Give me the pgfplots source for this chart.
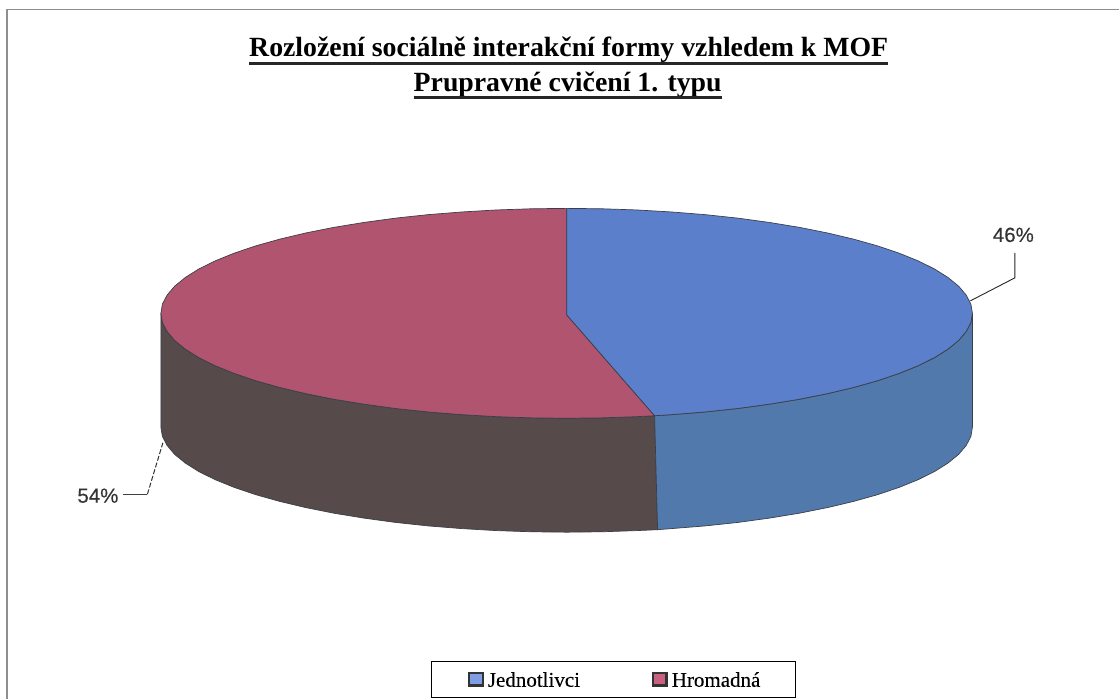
\documentclass[border=0pt]{standalone}
\usepackage{fontspec}
\setmainfont{Liberation Serif}
\newfontfamily\labelfont[FakeBold=0.25]{Liberation Sans}
\newfontfamily\legendfont[FakeBold=0.15]{Liberation Serif}
\usepackage{pgfplots}
\pgfplotsset{compat=1.18}
\definecolor{blueTop}{HTML}{5B7FCB}
\definecolor{blueSide}{HTML}{5179AB}
\definecolor{redTop}{HTML}{B0546F}
\definecolor{redSide}{HTML}{564A4A}
\definecolor{blueKey}{HTML}{7F9DE2}
\definecolor{redKey}{HTML}{C9607F}
\definecolor{rim}{HTML}{3A3F48}
\definecolor{frameGrey}{HTML}{8E8E8E}
\begin{document}
\begin{tikzpicture}
\begin{axis}[
  scale only axis, width=1120pt, height=699pt,
  xmin=0, xmax=1120, ymin=0, ymax=699, y dir=reverse,
  hide axis, clip=false,
]
% white page area, keeps the full extent of the picture
\addplot[fill=white, draw=none, forget plot] coordinates {(0,0) (1120,0) (1120,699) (0,699)} --cycle;
% chart frame
\addplot[frameGrey, line width=1.4pt, forget plot] coordinates {(7,699) (7,9.5) (1120,9.5)};

% side of the Hromadna slice (front rim and its lower copy)
\addplot[fill=redSide, draw=rim, line width=0.7pt] coordinates {
(161,313.5) (162.5,322.7) (167.2,331.7) (174.8,340.7) (185.5,349.4) (199,357.9) (215.4,366) (234.4,373.7) (256,381) (279.9,387.7) (306,393.9) (334.1,399.5) (364,404.4) (395.4,408.7) (428.1,412.2) (461.9,414.9) (496.5,416.9) (531.6,418.1) (567,418.5) (602.4,418.1) (637.5,416.9) (655,416)
(658,530) (637.5,530.9) (602.4,532.1) (567,532.5) (531.6,532.1) (496.5,530.9) (461.9,528.9) (428.1,526.2) (395.4,522.7) (364,518.4) (334.1,513.5) (306,507.9) (279.9,501.7) (256,495) (234.4,487.7) (215.4,480) (199,471.9) (185.5,463.4) (174.8,454.7) (167.2,445.7) (162.5,436.7) (161,427.5)
} --cycle;
% side of the Jednotlivci slice
\addplot[fill=blueSide, draw=rim, line width=0.7pt] coordinates {
(973,313.5) (971.5,322.7) (966.8,331.7) (959.2,340.7) (948.5,349.4) (935,357.9) (918.6,366) (899.6,373.7) (878,381) (854.1,387.7) (828,393.9) (799.9,399.5) (770,404.4) (738.6,408.7) (705.9,412.2) (672.1,414.9) (655,416)
(658,530) (672.1,528.9) (705.9,526.2) (738.6,522.7) (770,518.4) (799.9,513.5) (828,507.9) (854.1,501.7) (878,495) (899.6,487.7) (918.6,480) (935,471.9) (948.5,463.4) (959.2,454.7) (966.8,445.7) (971.5,436.7) (973,427.5)
} --cycle;
% top face of the Hromadna slice, 54 %
\addplot[fill=redTop, draw=rim, line width=0.7pt] coordinates {
(567,315) (655,416) (637.5,416.9) (602.4,418.1) (567,418.5) (531.6,418.1) (496.5,416.9) (461.9,414.9) (428.1,412.2) (395.4,408.7) (364,404.4) (334.1,399.5) (306,393.9) (279.9,387.7) (256,381) (234.4,373.7) (215.4,366) (199,357.9) (185.5,349.4) (174.8,340.7) (167.2,331.7) (162.5,322.7) (161,313.5) (162.5,304.3) (167.2,295.3) (174.8,286.3) (185.5,277.6) (199,269.1) (215.4,261) (234.4,253.3) (256,246) (279.9,239.3) (306,233.1) (334.1,227.5) (364,222.6) (395.4,218.3) (428.1,214.8) (461.9,212.1) (496.5,210.1) (531.6,208.9) (567,208.5)
} --cycle;
% top face of the Jednotlivci slice, 46 %
\addplot[fill=blueTop, draw=rim, line width=0.7pt] coordinates {
(567,315) (567,208.5) (602.4,208.9) (637.5,210.1) (672.1,212.1) (705.9,214.8) (738.6,218.3) (770,222.6) (799.9,227.5) (828,233.1) (854.1,239.3) (878,246) (899.6,253.3) (918.6,261) (935,269.1) (948.5,277.6) (959.2,286.3) (966.8,295.3) (971.5,304.3) (973,313.5) (971.5,322.7) (966.8,331.7) (959.2,340.7) (948.5,349.4) (935,357.9) (918.6,366) (899.6,373.7) (878,381) (854.1,387.7) (828,393.9) (799.9,399.5) (770,404.4) (738.6,408.7) (705.9,412.2) (672.1,414.9) (655,416)
} --cycle;

% leader lines of the data labels
\addplot[black!85, line width=0.9pt] coordinates {(971,301) (1015.5,278) (1015.5,253)};
\addplot[black!75, line width=0.9pt] coordinates {(123,494.5) (147.5,494.5)};
\addplot[black!80, line width=1pt, dash pattern=on 5pt off 2pt] coordinates {(147.5,494.5) (163,443)};

\node[anchor=center, font=\labelfont\fontsize{20.5}{24}\selectfont, text=black!80] at (axis cs:1014,235) {46\%};
\node[anchor=center, font=\labelfont\fontsize{20.5}{24}\selectfont, text=black!80] at (axis cs:98,496) {54\%};

% title and its underlines
\node[font=\bfseries\fontsize{27.8}{32}\selectfont] at (axis cs:569,50) {Rozložení sociálně interakční formy vzhledem k MOF};
\node[font=\bfseries\fontsize{27.8}{32}\selectfont] at (axis cs:568,85) {Prupravné cvičení 1. typu};
\addplot[black!85, line width=2.2pt, forget plot] coordinates {(249,63.5) (889,63.5)};
\addplot[black!85, line width=2.2pt, forget plot] coordinates {(414,97.5) (722,97.5)};

% legend
\addplot[black, line width=1pt] coordinates {(432,662) (796,662) (796,697.5) (432,697.5)} --cycle;
\addplot[fill=blueKey, draw=black!80, line width=2.2pt] coordinates {(469,673.5) (483,673.5) (483,686) (469,686)} --cycle;
\addplot[fill=redKey, draw=black!80, line width=2.2pt] coordinates {(653,673.5) (667,673.5) (667,686) (653,686)} --cycle;
\node[anchor=west, inner sep=0pt, font=\legendfont\fontsize{21}{24}\selectfont] at (axis cs:488,680) {Jednotlivci};
\node[anchor=west, inner sep=0pt, font=\legendfont\fontsize{21}{24}\selectfont] at (axis cs:672,680) {Hromadná};
\end{axis}
\end{tikzpicture}
\end{document}
